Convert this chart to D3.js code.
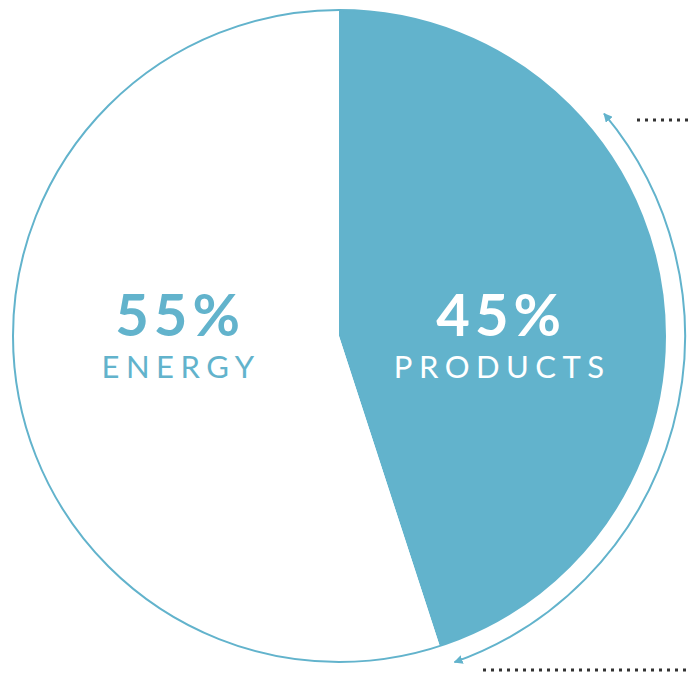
<!DOCTYPE html>
<html>
<head>
<meta charset="utf-8">
<script src="https://cdn.jsdelivr.net/npm/d3@7"></script>
<style>
  body { margin: 0; background: #fff; }
  svg { display: block; }
</style>
</head>
<body>
<div id="chart"></div>
<script>
// data
const categories = ["PRODUCTS", "ENERGY"];
const shares = [45, 55];
const labels = ["45%", "55%"];

const W = 688, H = 673;
const cx = 339, cy = 336, r = 326;
const teal = "#62b3cc";

const svg = d3.select("#chart").append("svg")
    .attr("width", W)
    .attr("height", H);

// arrow marker
svg.append("defs").append("marker")
    .attr("id", "arrow")
    .attr("viewBox", "0 0 10 10")
    .attr("refX", 9)
    .attr("refY", 5)
    .attr("markerWidth", 9)
    .attr("markerHeight", 9)
    .attr("markerUnits", "userSpaceOnUse")
    .attr("orient", "auto-start-reverse")
    .append("path")
    .attr("d", "M0,0 L10,5 L0,10 Z")
    .attr("fill", teal);

const g = svg.append("g")
    .attr("transform", `translate(${cx}, ${cy})`);

const pie = d3.pie().sort(null).value(d => d);
const arcs = pie(shares);

const arc = d3.arc().innerRadius(0).outerRadius(r);

// slices
g.selectAll("path.slice")
    .data(arcs)
    .enter()
    .append("path")
    .attr("class", "slice")
    .attr("d", arc)
    .attr("fill", (d, i) => i === 0 ? teal : "#ffffff");

// outline
g.append("circle")
    .attr("r", r)
    .attr("fill", "none")
    .attr("stroke", teal)
    .attr("stroke-width", 2);

// label x: left or right of centre depending on slice side
const labelX = d => {
    const mid = (d.startAngle + d.endAngle) / 2;
    return Math.sin(mid) > 0 ? r * 0.49 : -r * 0.495;
};
const labelY = 0;

g.selectAll("text.pct")
    .data(arcs)
    .enter()
    .append("text")
    .attr("class", "pct")
    .attr("x", labelX)
    .attr("dx", 2.5)
    .attr("y", labelY)
    .attr("text-anchor", "middle")
    .attr("font-family", "Lato, 'DejaVu Sans', sans-serif")
    .attr("font-weight", 700)
    .attr("font-size", "58px")
    .attr("letter-spacing", "5px")
    .attr("fill", (d, i) => i === 0 ? "#ffffff" : teal)
    .text((d, i) => labels[i]);

g.selectAll("text.cat")
    .data(arcs)
    .enter()
    .append("text")
    .attr("class", "cat")
    .attr("x", labelX)
    .attr("dx", 3.5)
    .attr("y", labelY + 42)
    .attr("text-anchor", "middle")
    .attr("font-family", "Lato, 'DejaVu Sans', sans-serif")
    .attr("font-weight", 400)
    .attr("font-size", "31px")
    .attr("letter-spacing", "6.5px")
    .attr("fill", (d, i) => i === 0 ? "#ffffff" : teal)
    .text((d, i) => categories[i]);

// outer arrow arc following the products slice
const ra = 346;
const a0 = 50 * Math.PI / 180, a1 = 160.5 * Math.PI / 180;
const p = d3.path();
p.arc(0, 0, ra, a0 - Math.PI / 2, a1 - Math.PI / 2);
g.append("path")
    .attr("d", p.toString())
    .attr("fill", "none")
    .attr("stroke", teal)
    .attr("stroke-width", 2)
    .attr("marker-start", "url(#arrow)")
    .attr("marker-end", "url(#arrow)");

// dotted leaders
const leaders = [
    {x1: 637, x2: 688, y: 120},
    {x1: 483, x2: 688, y: 670}
];
svg.selectAll("line.leader")
    .data(leaders)
    .enter()
    .append("line")
    .attr("class", "leader")
    .attr("x1", d => d.x1)
    .attr("x2", d => d.x2)
    .attr("y1", d => d.y)
    .attr("y2", d => d.y)
    .attr("stroke", "#333")
    .attr("stroke-width", 3)
    .attr("stroke-dasharray", "3,5");
</script>
</body>
</html>
